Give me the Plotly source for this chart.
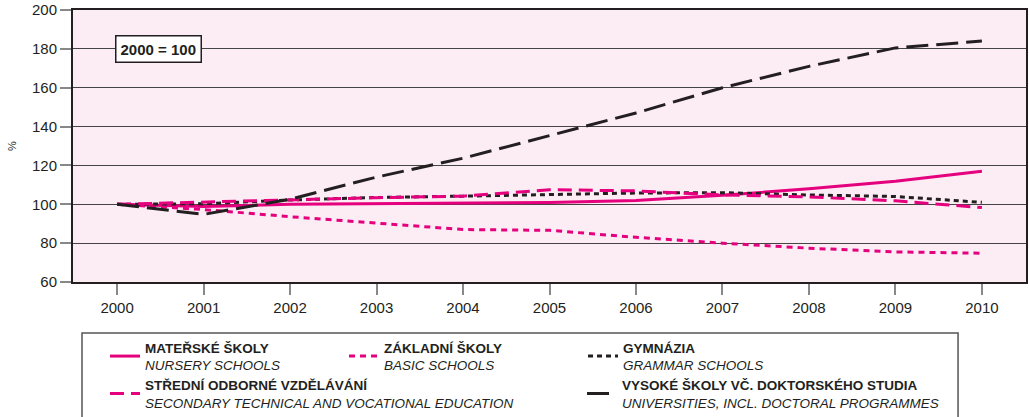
import plotly.graph_objects as go

years = [2000, 2001, 2002, 2003, 2004, 2005, 2006, 2007, 2008, 2009, 2010]
nursery = [100, 98.8, 100, 100.2, 100.4, 100.9, 102, 104.6, 108, 111.8, 117]
basic = [100, 97.3, 93.6, 90.2, 87, 86.6, 83, 80, 77.4, 75.5, 74.8]
grammar = [100, 100.3, 102.2, 103.5, 104.2, 105, 105.8, 106, 104.8, 104, 101]
secondary = [100, 101.2, 102.4, 103.4, 104.2, 107.5, 106.9, 104.8, 103.8, 101.8, 98.3]
universities = [100, 94.8, 102.6, 114, 123.7, 135.5, 147, 160, 171, 180.5, 184]

y_ticks = [60, 80, 100, 120, 140, 160, 180, 200]

names = {
    "nursery": "<b>MATEŘSKÉ ŠKOLY</b><br><i>NURSERY SCHOOLS</i>",
    "basic": "<b>ZÁKLADNÍ ŠKOLY</b><br><i>BASIC SCHOOLS</i>",
    "grammar": "<b>GYMNÁZIA</b><br><i>GRAMMAR SCHOOLS</i>",
    "secondary": "<b>STŘEDNÍ ODBORNÉ VZDĚLÁVÁNÍ</b><br><i>SECONDARY TECHNICAL AND VOCATIONAL EDUCATION</i>",
    "universities": "<b>VYSOKÉ ŠKOLY VČ. DOKTORSKÉHO STUDIA</b><br><i>UNIVERSITIES, INCL. DOCTORAL PROGRAMMES</i>",
}

PINK = "#E5007E"
DARK = "#231F20"
FONT = "Liberation Sans, Arial, sans-serif"

fig = go.Figure()
fig.add_trace(go.Scatter(x=years, y=nursery, mode="lines", name=names["nursery"],
                         line=dict(color=PINK, width=3), legend="legend"))
fig.add_trace(go.Scatter(x=years, y=basic, mode="lines", name=names["basic"],
                         line=dict(color=PINK, width=3, dash="6px,5px"), legend="legend"))
fig.add_trace(go.Scatter(x=years, y=grammar, mode="lines", name=names["grammar"],
                         line=dict(color=DARK, width=3, dash="5px,4px"), legend="legend"))
fig.add_trace(go.Scatter(x=years, y=secondary, mode="lines", name=names["secondary"],
                         line=dict(color=PINK, width=3, dash="14px,7px"), legend="legend2"))
fig.add_trace(go.Scatter(x=years, y=universities, mode="lines", name=names["universities"],
                         line=dict(color=DARK, width=3, dash="22px,8px"), legend="legend2"))

def legend_cfg(y, entrywidth):
    return dict(
        orientation="h", xanchor="left", yanchor="middle", x=0.0336, y=y,
        entrywidth=entrywidth, entrywidthmode="pixels",
        font=dict(family=FONT, size=13.5, color=DARK),
        bgcolor="rgba(0,0,0,0)", borderwidth=0, valign="middle",
    )

fig.update_layout(
    width=1029, height=417,
    margin=dict(l=73, r=3, t=10, b=135, autoexpand=False),
    paper_bgcolor="white",
    plot_bgcolor="#FCECF4",
    font=dict(family=FONT, size=15, color=DARK),
    showlegend=True,
    legend=legend_cfg(-0.274, 194),
    legend2=legend_cfg(-0.412, 432),
    xaxis=dict(
        range=[1999.49, 2010.51], tickvals=years, ticktext=[str(y) for y in years],
        ticks="outside", ticklen=11, tickcolor="#888", tickwidth=1.5,
        showgrid=False, zeroline=False,
        showline=True, linecolor=DARK, linewidth=2, mirror=True,
        tickfont=dict(size=15, color=DARK),
    ),
    yaxis=dict(
        range=[60, 200], tickvals=y_ticks,
        ticks="outside", ticklen=11, tickcolor="#888", tickwidth=1.5,
        showgrid=True, gridcolor="#444", gridwidth=1,
        zeroline=False,
        showline=True, linecolor=DARK, linewidth=2, mirror=True,
        tickfont=dict(size=15, color=DARK),
    ),
    annotations=[
        dict(text="%", x=-0.064, y=0.5, xref="paper", yref="paper",
             xanchor="center", yanchor="middle",
             textangle=-90, showarrow=False, font=dict(size=11, color=DARK)),
        dict(text="<b>2000 = 100</b>", x=0.0897, y=0.8566, xref="paper", yref="paper",
             xanchor="center", yanchor="middle",
             showarrow=False, font=dict(size=15, color=DARK),
             bgcolor="white", bordercolor=DARK, borderwidth=1.5, borderpad=4),
    ],
    shapes=[
        dict(type="rect", xref="paper", yref="paper",
             x0=0.00944, x1=0.9287, y0=-0.1875, y1=-0.55,
             line=dict(color="#555", width=1.5), fillcolor="rgba(0,0,0,0)", layer="above"),
    ],
)

fig.write_html("out.html", config={"displayModeBar": False},
               post_script="document.body.style.margin='0';")
